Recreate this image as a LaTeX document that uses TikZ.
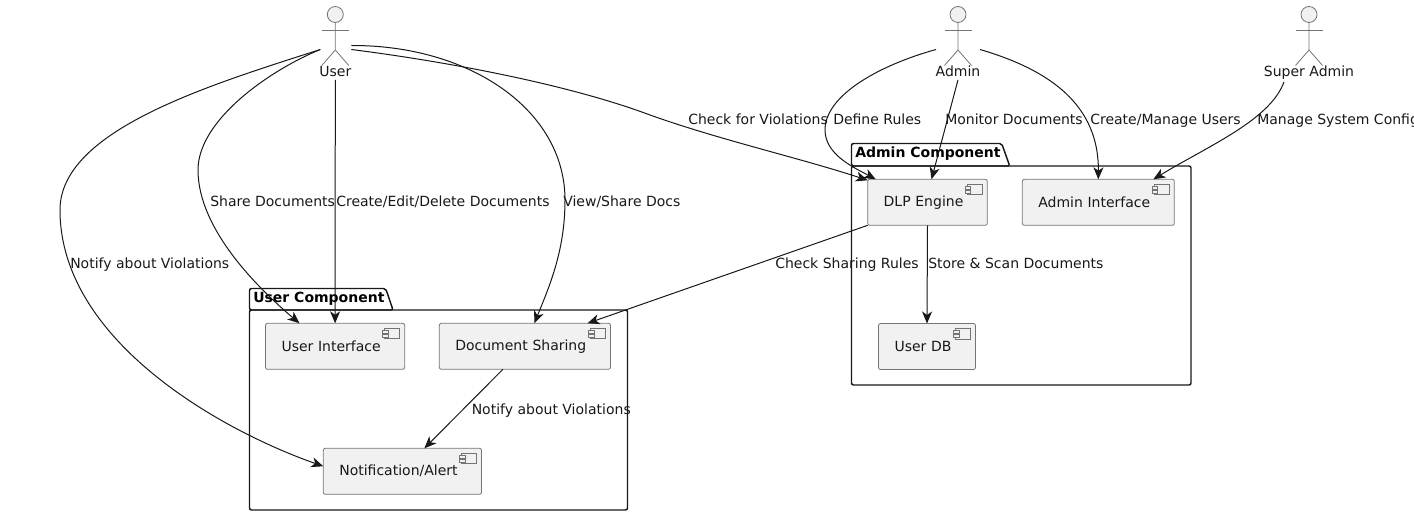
\documentclass[tikz,border=0pt]{standalone}
\usepackage{fontspec}
\setmainfont{DejaVu Sans}
\usetikzlibrary{arrows.meta,calc}
\definecolor{ink}{HTML}{181818}
\definecolor{boxfill}{HTML}{F1F1F1}
\tikzset{
  every node/.style={font=\fontsize{10.5pt}{12.6pt}\selectfont,text=ink},
  comp/.style={draw=ink!60,line width=.6pt,fill=boxfill,rounded corners=1.5pt,inner xsep=12pt,inner ysep=0pt,outer sep=0pt,minimum height=34.5pt,align=left},
  compicon/.style={draw=ink!60,line width=.6pt,fill=boxfill},
  pkg/.style={draw=ink,line width=1.1pt,rounded corners=1.5pt},
  pkgname/.style={font=\fontsize{10.5pt}{12.6pt}\selectfont\bfseries,anchor=west,inner sep=0pt,text=black},
  head/.style={circle,draw=ink!60,line width=.6pt,fill=boxfill,minimum size=12pt,inner sep=0pt,outer sep=0pt},
  limb/.style={draw=ink!60,line width=.6pt},
  actorname/.style={inner sep=0pt,text height=8pt,text depth=2pt},
  edgetext/.style={anchor=west,inner sep=0pt,text height=8pt,text depth=2pt},
  link/.style={draw=ink,line width=.75pt,-{Stealth[length=9pt,width=7.5pt,inset=2.6pt]}},
}
\newcommand{\compglyph}[1]{%
  \draw[compicon] ($(#1.north east)+(-20,5)$) rectangle ($(#1.north east)+(-5,15.5)$);
  \draw[compicon] ($(#1.north east)+(-22,7)$) rectangle ($(#1.north east)+(-16.5,10)$);
  \draw[compicon] ($(#1.north east)+(-22,11)$) rectangle ($(#1.north east)+(-16.5,14)$);
}
\newcommand{\actorglyph}[1]{%
  \draw[limb] (#1.south) -- ++(0,27.5) -- ++(-13.5,15.5);
  \draw[limb] ($(#1.south)+(0,27.5)$) -- ++(13.5,15.5);
  \draw[limb] ($(#1.south)+(-13.5,7.5)$) -- ++(27,0);
}
\begin{document}
\begin{tikzpicture}[x=.75pt,y=-.75pt]
\useasboundingbox (0,0) rectangle (1414,516);
% packages
\draw[pkg] (249.5,310) -- (249.5,288.5) -- (385.7,288.5) -- (393,310) -- cycle;
\draw[pkg] (249.5,310) rectangle (627.5,510);
\draw[pkg] (851.5,166) -- (851.5,143.5) -- (1001.7,143.5) -- (1009.7,166) -- cycle;
\draw[pkg] (851.5,166) rectangle (1191,385);
\node[pkgname] (upkg) at (253,298.5) {User Component};
\node[pkgname] (apkg) at (855,154) {Admin Component};
% components
\node[comp,text width=80.4pt] (ui) at (335.1,346.3) {User Interface};
\node[comp,text width=104.4pt] (ds) at (524.9,346.3) {Document Sharing};
\node[comp,text width=94.65pt] (na) at (402.4,471.3) {Notification/Alert};
\node[comp,text width=65.7pt] (dlp) at (927.5,202.3) {DLP Engine};
\node[comp,text width=90pt] (ai) at (1098.3,202.3) {Admin Interface};
\node[comp,text width=48.75pt] (db) at (927,346.5) {User DB};
\compglyph{ui}\compglyph{ds}\compglyph{na}\compglyph{dlp}\compglyph{ai}\compglyph{db}
% actors
\node[head] (user) at (335.3,14.5) {};
\node[head] (admin) at (958,14.5) {};
\node[head] (super) at (1309,14.5) {};
\actorglyph{user}\actorglyph{admin}\actorglyph{super}
\node[actorname] (userl) at (335.3,73) {User};
\node[actorname] (adminl) at (958,73) {Admin};
\node[actorname] (superl) at (1309,73) {Super Admin};
% connectors
\draw[link] ($(user)+(-15,35)$) .. controls (210,85) and (60,130) .. (60,210) .. controls (60,340) and (220,430) .. ($(na.north west)+(0,18)$);
\draw[link] ($(user)+(-15,35)$) .. controls (270,70) and (198,120) .. (198,170) .. controls (198,230) and (260,290) .. ($(ui.north west)+(34,0)$);
\draw[link] (userl.south) -- (ui.north);
\draw[link] ($(user)+(16,31)$) .. controls (470,45) and (565,110) .. (565,200) .. controls (565,250) and (550,285) .. ($(ds.north west)+(95,0)$);
\draw[link] ($(user)+(16,35)$) .. controls (450,62) and (570,85) .. (650,115) .. controls (720,140) and (800,158) .. ($(dlp.north west)+(0,1)$);
\draw[link] ($(admin)+(-22,35)$) .. controls (880,65) and (825,95) .. (825,130) .. controls (825,155) and (855,168) .. ($(dlp.north west)+(8,0)$);
\draw[link] (adminl.south) -- ($(dlp.north)+(4,0)$);
\draw[link] ($(admin)+(22,35)$) .. controls (1050,70) and (1099,105) .. (ai.north);
\draw[link] ($(superl.south)+(-25,2)$) .. controls (1270,120) and (1210,145) .. ($(ai.north east)+(-21,0)$);
\draw[link] (dlp.south west) -- ($(ds.north east)+(-23,0)$);
\draw[link] (dlp.south) -- (db.north);
\draw[link] ($(ds.south)+(-22,0)$) -- ($(na.north)+(22,0)$);
% labels
\node[edgetext] (l1) at (70,264.5) {Notify about Violations};
\node[edgetext] (l2) at (210,202.5) {Share Documents};
\node[edgetext] (l3) at (336,202.5) {Create/Edit/Delete Documents};
\node[edgetext] (l4) at (563,202.5) {View/Share Docs};
\node[edgetext] (l5) at (688,120.5) {Check for Violations};
\node[edgetext] (l6) at (833,120.5) {Define Rules};
\node[edgetext] (l7) at (945,120.5) {Monitor Documents};
\node[edgetext] (l8) at (1090,120.5) {Create/Manage Users};
\node[edgetext] (l9) at (1257,120.5) {Manage System Config};
\node[edgetext] (l10) at (775,264.5) {Check Sharing Rules};
\node[edgetext] (l11) at (928,264.5) {Store \& Scan Documents};
\node[edgetext] (l12) at (471.5,410.5) {Notify about Violations};
\end{tikzpicture}
\end{document}
